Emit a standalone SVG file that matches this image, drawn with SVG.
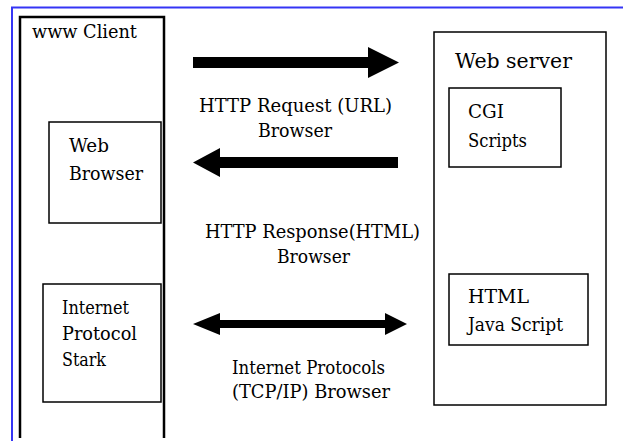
<svg xmlns="http://www.w3.org/2000/svg" width="624" height="441" viewBox="0 0 624 441">
<style>
text{font-family:'DejaVu Serif','Liberation Serif','Times New Roman',serif;font-size:18px;fill:#000}
.box{fill:none;stroke:#000;stroke-width:1.5}
.frame{fill:none;stroke:#000;stroke-width:2.5}
.mid{text-anchor:middle}
.arrow{fill:#000;stroke:none}
</style>
<rect width="624" height="441" fill="#fff"/>
<path d="M12,441 V7.5 H623" fill="none" stroke="#3535f5" stroke-width="2"/>
<g id="client">
<path class="frame" d="M20,438 V17 H164 V438"/>
<text x="32" y="38" textLength="105" lengthAdjust="spacingAndGlyphs">www Client</text>
</g>
<g id="web-browser">
<rect class="box" x="49" y="122" width="112" height="101"/>
<text x="69" y="152" textLength="40" lengthAdjust="spacingAndGlyphs">Web</text>
<text x="69" y="180" textLength="74" lengthAdjust="spacingAndGlyphs">Browser</text>
</g>
<g id="ip-stack">
<rect class="box" x="43" y="284" width="118" height="118"/>
<text x="62" y="314" textLength="67" lengthAdjust="spacingAndGlyphs">Internet</text>
<text x="62" y="340" textLength="75" lengthAdjust="spacingAndGlyphs">Protocol</text>
<text x="62" y="366" textLength="44" lengthAdjust="spacingAndGlyphs">Stark</text>
</g>
<g id="web-server">
<rect class="box" x="434" y="32" width="172" height="373"/>
<text x="455" y="68" style="font-size:20px" textLength="117" lengthAdjust="spacingAndGlyphs">Web server</text>
</g>
<g id="cgi">
<rect class="box" x="449" y="88" width="112" height="79"/>
<text x="468" y="118" textLength="36" lengthAdjust="spacingAndGlyphs">CGI</text>
<text x="468" y="147" textLength="59" lengthAdjust="spacingAndGlyphs">Scripts</text>
</g>
<g id="html">
<rect class="box" x="449" y="274" width="139" height="71"/>
<text x="468" y="303" textLength="61" lengthAdjust="spacingAndGlyphs">HTML</text>
<text x="468" y="331" textLength="95" lengthAdjust="spacingAndGlyphs">Java Script</text>
</g>
<g id="connectors">
<polygon class="arrow" points="193,57 368,57 368,47 399,62.5 368,78 368,68 193,68"/>
<polygon class="arrow" points="398,157 220,157 220,148 193,162.5 220,177 220,168 398,168"/>
<polygon class="arrow" points="193,324 220,313 220,320 385,320 385,313 407,324 385,335 385,328 220,328 220,335"/>
</g>
<g id="labels">
<text x="199" y="112" textLength="193" lengthAdjust="spacingAndGlyphs">HTTP Request (URL)</text>
<text x="258" y="137" textLength="74" lengthAdjust="spacingAndGlyphs">Browser</text>
<text x="205" y="238" textLength="215" lengthAdjust="spacingAndGlyphs">HTTP Response(HTML)</text>
<text x="277" y="263" textLength="73" lengthAdjust="spacingAndGlyphs">Browser</text>
<text x="232" y="374" textLength="153" lengthAdjust="spacingAndGlyphs">Internet Protocols</text>
<text x="232" y="398" textLength="158" lengthAdjust="spacingAndGlyphs">(TCP/IP) Browser</text>
</g>
</svg>
